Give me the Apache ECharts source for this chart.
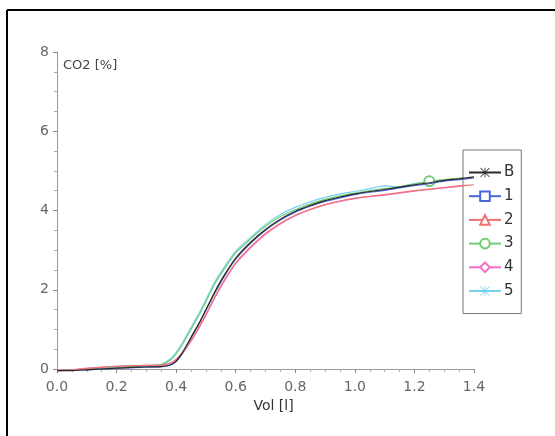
<!DOCTYPE html>
<html><head><meta charset="utf-8">
<script src="https://cdn.jsdelivr.net/npm/echarts@6/dist/echarts.min.js"></script>
<style>html,body{margin:0;padding:0;background:#fff}#c{width:555px;height:436px}</style>
</head><body><div id="c"></div>
<script>
const xs = [0, 0.05, 0.1, 0.15, 0.2, 0.25, 0.3, 0.35, 0.38, 0.4, 0.42, 0.45, 0.48, 0.5, 0.53, 0.56, 0.6, 0.65, 0.7, 0.75, 0.8, 0.85, 0.9, 0.95, 1.0, 1.05, 1.1, 1.15, 1.2, 1.25, 1.3, 1.35, 1.4];
const seriesNames = ['B', '1', '2', '3', '4', '5'];
const valsB = [-0.04, -0.04, -0.02, 0.0, 0.02, 0.04, 0.05, 0.06, 0.1, 0.2, 0.4, 0.8, 1.2, 1.5, 1.95, 2.35, 2.8, 3.2, 3.52, 3.78, 3.98, 4.13, 4.25, 4.34, 4.42, 4.48, 4.53, 4.59, 4.65, 4.7, 4.76, 4.8, 4.85];
const vals1 = [-0.04, -0.03, -0.02, 0.0, 0.02, 0.03, 0.05, 0.06, 0.1, 0.19, 0.38, 0.78, 1.18, 1.48, 1.92, 2.32, 2.77, 3.17, 3.5, 3.76, 3.96, 4.11, 4.23, 4.32, 4.4, 4.46, 4.51, 4.57, 4.63, 4.68, 4.74, 4.78, 4.82];
const vals2 = [-0.03, -0.02, 0.01, 0.04, 0.07, 0.08, 0.09, 0.1, 0.15, 0.25, 0.4, 0.72, 1.1, 1.38, 1.82, 2.22, 2.68, 3.08, 3.42, 3.68, 3.88, 4.03, 4.15, 4.24, 4.31, 4.36, 4.4, 4.45, 4.5, 4.54, 4.58, 4.62, 4.65];
const vals3 = [-0.04, -0.03, 0.0, 0.02, 0.05, 0.07, 0.08, 0.11, 0.22, 0.38, 0.6, 1.0, 1.4, 1.7, 2.15, 2.5, 2.93, 3.28, 3.6, 3.85, 4.02, 4.17, 4.28, 4.37, 4.44, 4.5, 4.55, 4.6, 4.67, 4.74, 4.78, 4.82, 4.86];
const vals4 = [-0.03, -0.02, 0.02, 0.05, 0.07, 0.08, 0.09, 0.1, 0.14, 0.23, 0.38, 0.7, 1.08, 1.36, 1.8, 2.2, 2.66, 3.06, 3.4, 3.66, 3.87, 4.02, 4.14, 4.23, 4.3, 4.35, 4.39, 4.44, 4.49, 4.53, 4.57, 4.61, 4.64];
const vals5 = [-0.03, -0.02, 0.0, 0.02, 0.05, 0.07, 0.08, 0.12, 0.25, 0.42, 0.65, 1.05, 1.45, 1.75, 2.2, 2.55, 2.98, 3.32, 3.65, 3.9, 4.08, 4.22, 4.33, 4.42, 4.48, 4.55, 4.62, 4.6, 4.68, 4.73, 4.77, 4.8, 4.83];
const xTicks = ['0.0', '0.2', '0.4', '0.6', '0.8', '1.0', '1.2', '1.4'];
const yTicks = ['0', '2', '4', '6', '8'];
const markerX = 1.25; // green circle marker position

const allVals = [valsB, vals1, vals2, vals3, vals4, vals5];
const colors = ['#2a2a2a', '#4a66d8', '#f27272', '#74cc74', '#f070c8', '#74d2f0'];
const star = 'path://M5.5,0h1v12h-1zM0,5.5h12v1h-12zM0.7,0L12,11.3L11.3,12L0,0.7zM11.3,0L12,0.7L0.7,12L0,11.3z';
const symbols = [star, 'emptyRect', 'emptyTriangle', 'emptyCircle', 'emptyDiamond', star];
const zs = [5, 4, 4, 3, 2, 1];

const chart = echarts.init(document.getElementById('c'));
const series = seriesNames.map((n, i) => ({
  name: n,
  type: 'line',
  data: xs.map((x, j) => [x, allVals[i][j]]),
  symbol: symbols[i],
  symbolSize: (v) => (i === 3 && Math.abs(v[0] - markerX) < 1e-6) ? 10 : 0,
  showSymbol: true,
  clip: false,
  smooth: 0.2,
  lineStyle: { color: colors[i], width: 1.2 },
  itemStyle: { color: colors[i] },
  z: zs[i]
}));

chart.setOption({
  animation: false,
  backgroundColor: '#fff',
  grid: { left: 57, right: 81, top: 52, bottom: 67 },
  xAxis: {
    type: 'value', min: 0, max: 1.4, interval: 0.2,
    name: 'Vol [l]', nameLocation: 'middle', nameGap: -17,
    nameTextStyle: { color: '#333', fontSize: 14, fontFamily: 'DejaVu Sans', padding: [0, 0, 0, 16] },
    axisLine: { onZero: false, lineStyle: { color: '#999', width: 1 } },
    axisTick: { show: true, length: 4, lineStyle: { color: '#888' } },
    minorTick: { show: true, splitNumber: 4, length: 3, lineStyle: { color: '#aaa' } },
    splitLine: { show: false },
    axisLabel: { color: '#666', fontSize: 14, fontFamily: 'DejaVu Sans', margin: 11,
      formatter: (v) => xTicks[Math.round(v / 0.2)] }
  },
  yAxis: {
    type: 'value', min: 0, max: 8, interval: 2,
    name: 'CO2 [%]', nameLocation: 'end', nameGap: -7,
    nameTextStyle: { color: '#444', fontSize: 13, fontFamily: 'DejaVu Sans', align: 'left', verticalAlign: 'top', padding: [0, 0, 0, 6] },
    axisLine: { show: true, lineStyle: { color: '#999', width: 1 } },
    axisTick: { show: true, length: 4, lineStyle: { color: '#888' } },
    minorTick: { show: true, splitNumber: 4, length: 3, lineStyle: { color: '#aaa' } },
    splitLine: { show: false },
    axisLabel: { color: '#666', fontSize: 14, fontFamily: 'DejaVu Sans', margin: 8,
      formatter: (v) => yTicks[Math.round(v / 2)] }
  },
  legend: {
    orient: 'vertical', left: 463, top: 150,
    padding: [15, 7, 15, 5], itemGap: 8.7, itemWidth: 32, itemHeight: 12,
    backgroundColor: '#fff', borderColor: '#777', borderWidth: 1,
    textStyle: { color: '#333', fontSize: 15, fontFamily: 'DejaVu Sans', padding: [0, 0, 0, -2] },
    data: seriesNames
  },
  graphic: [
    { type: 'line', shape: { x1: 7, y1: 10, x2: 555, y2: 10 }, style: { stroke: '#000', lineWidth: 2 } },
    { type: 'line', shape: { x1: 7, y1: 10, x2: 7, y2: 436 }, style: { stroke: '#000', lineWidth: 2 } }
  ],
  series: series
});
</script>
</body></html>
